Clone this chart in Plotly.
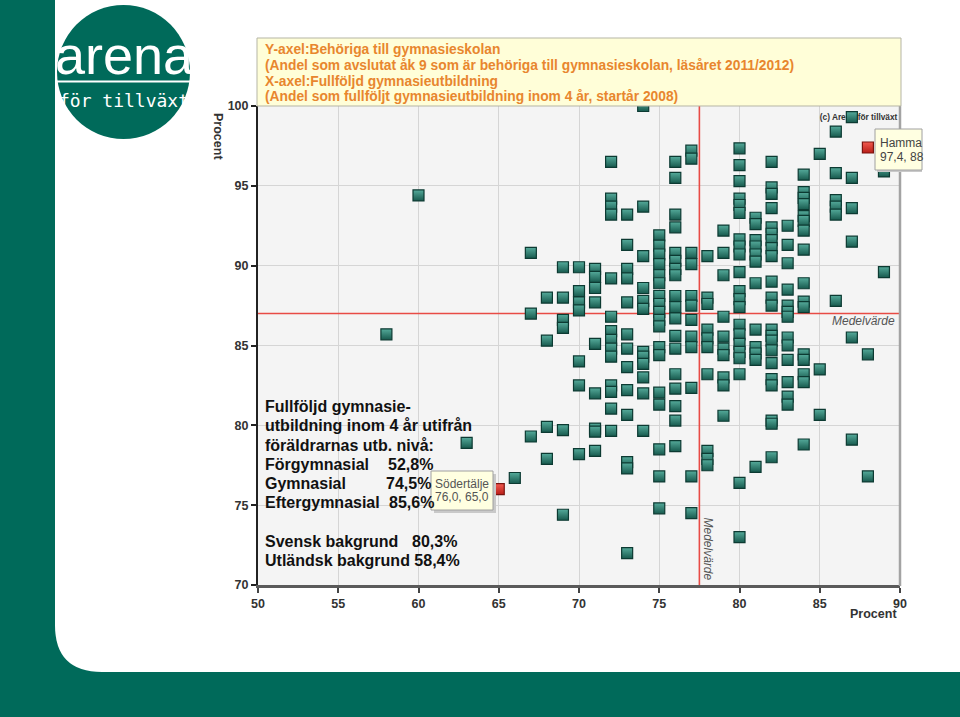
import plotly.graph_objects as go

W, H = 960, 717

# ---------------- data (x = Fullföljd gymnasieutbildning %, y = Behöriga %) ----------------
y_58 = [85.7]
y_60 = [94.4]
y_63 = [78.9]
y_66 = [76.7]
y_67 = [90.8, 87.0, 79.3]
y_68 = [88.0, 85.3, 79.9, 77.9]
y_69 = [89.9, 88.0, 86.6, 86.1, 79.7, 74.4]
y_70 = [89.9, 88.4, 87.7, 87.2, 84.0, 82.5, 78.2]
y_71 = [89.8, 89.3, 88.6, 87.7, 85.1, 82.0, 79.8, 79.6, 78.4]
y_72 = [96.5, 94.2, 93.7, 93.2, 89.2, 86.8, 85.9, 85.35, 84.8, 84.3, 82.5, 82.1, 81.05, 79.65]
y_73 = [93.2, 91.3, 89.8, 89.2, 87.7, 85.7, 84.8, 83.65, 82.2, 80.65, 77.7, 77.3, 72.0]
y_74 = [100.0, 93.7, 90.6, 88.6, 87.8, 87.3, 84.6, 84.3, 83.85, 83.0, 82.0, 79.65]
y_75 = [91.9, 91.25, 90.7, 90.1, 89.4, 88.9, 88.1, 87.6, 87.1, 86.6, 86.2, 84.9, 84.4,
        82.05, 81.3, 78.5, 76.8, 74.8]
y_76 = [96.5, 95.5, 93.2, 92.4, 90.8, 90.3, 89.8, 89.4, 88.1, 87.4, 86.7, 85.6, 84.8,
        83.2, 82.3, 81.2, 80.3, 78.7]
y_77 = [97.2, 96.7, 90.8, 90.1, 88.1, 87.5, 86.6, 85.55, 84.9, 82.35, 76.8, 74.5]
y_78 = [90.6, 88.0, 87.6, 86.0, 85.45, 84.9, 83.2, 78.4, 77.9, 77.5]
y_79 = [92.2, 90.8, 89.4, 86.8, 85.55, 84.8, 84.4, 83.0, 82.5, 80.6]
y_80 = [97.35, 96.3, 95.3, 94.2, 93.8, 93.3, 91.65, 91.2, 90.7, 89.6, 88.4, 87.9, 87.4,
        86.3, 85.7, 85.1, 84.6, 84.2, 83.2, 76.4, 73.0]
y_81 = [93.0, 92.6, 91.6, 91.2, 90.7, 90.25, 88.9, 86.0, 84.9, 84.5, 84.1, 77.4]
y_82 = [96.5, 94.9, 94.5, 93.6, 92.4, 92.0, 91.6, 91.1, 90.6, 89.0, 88.0, 87.5, 86.0,
        85.6, 85.3, 84.7, 83.9, 82.9, 82.5, 80.3, 80.1, 78.0]
y_83 = [92.5, 91.3, 90.15, 88.5, 87.5, 87.1, 86.8, 85.5, 85.0, 84.1, 82.7, 81.8, 81.3]
y_84 = [95.7, 94.6, 94.25, 93.85, 93.1, 92.8, 92.2, 91.0, 88.9, 87.75, 87.4, 84.45, 84.1,
        83.2, 82.7, 78.8]
y_85 = [97.0, 83.5, 80.65]
y_86 = [98.4, 95.8, 94.1, 93.7, 93.2, 87.8]
y_87 = [99.3, 95.5, 93.6, 91.5, 85.5, 79.1]
y_88 = [84.45, 76.8]
y_89 = [95.9, 89.6]

column_x = [58, 60, 63, 66, 67, 68, 69, 70, 71, 72, 73, 74, 75, 76, 77, 78, 79, 80, 81,
            82, 83, 84, 85, 86, 87, 88, 89]
column_y = [y_58, y_60, y_63, y_66, y_67, y_68, y_69, y_70, y_71, y_72, y_73, y_74, y_75,
            y_76, y_77, y_78, y_79, y_80, y_81, y_82, y_83, y_84, y_85, y_86, y_87, y_88, y_89]

highlight_names = ["Södertälje", "Hammarö"]
highlight_x = [65.0, 88.0]
highlight_y = [76.0, 97.4]

mean_x = 77.5
mean_y = 87.0

x_ticks = [50, 55, 60, 65, 70, 75, 80, 85, 90]
y_ticks = [70, 75, 80, 85, 90, 95, 100]

title_lines = [
    "Y-axel:Behöriga till gymnasieskolan",
    "(Andel som avslutat åk 9 som är behöriga till gymnasieskolan, läsåret 2011/2012)",
    "X-axel:Fullföljd gymnasieutbildning",
    "(Andel som fullföljt gymnasieutbildning inom 4 år, startår 2008)",
]
info_labels = ["Fullföljd gymnasie-", "utbildning inom 4 år utifrån", "föräldrarnas utb. nivå:",
               "Förgymnasial", "Gymnasial", "Eftergymnasial", "Svensk bakgrund",
               "Utländsk bakgrund 58,4%"]
info_values = ["", "", "", "52,8%", "74,5%", "85,6%", "80,3%", ""]

# ---------------- helpers (pixel -> paper) ----------------
def px(x):
    return x / W

def py(y):
    return 1 - y / H

TEAL = "#006a5a"
FONT = "Liberation Sans, Arial, sans-serif"

xs, ys = [], []
for xv, col in zip(column_x, column_y):
    xs += [xv] * len(col)
    ys += col

fig = go.Figure()

# mean lines
fig.add_trace(go.Scatter(x=[x_ticks[0], x_ticks[-1]], y=[mean_y, mean_y], mode="lines",
                         line=dict(color="#e84b45", width=1.6), hoverinfo="skip"))
fig.add_trace(go.Scatter(x=[mean_x, mean_x], y=[y_ticks[0], y_ticks[-1]], mode="lines",
                         line=dict(color="#e84b45", width=1.6), hoverinfo="skip"))

# copyright text (beneath markers)
fig.add_trace(go.Scatter(x=[85.0], y=[99.25], mode="text", text=["<b>(c) Arena för tillväxt</b>"],
                         textposition="middle right",
                         textfont=dict(family=FONT, size=8.3, color="#333333"), hoverinfo="skip"))

# municipalities
fig.add_trace(go.Scatter(
    x=xs, y=ys, mode="markers",
    marker=dict(symbol="square", size=11, color="#55ab9b",
                gradient=dict(type="vertical", color="#17594d"),
                line=dict(color="#0c3a32", width=1.2)),
    hoverinfo="x+y"))
fig.add_trace(go.Scatter(
    x=highlight_x, y=highlight_y, mode="markers", text=highlight_names,
    marker=dict(symbol="square", size=11, color="#f25a50",
                gradient=dict(type="vertical", color="#b81d17"),
                line=dict(color="#7a1410", width=1.2)),
    hoverinfo="text+x+y"))

shapes = []
# white rounded page
shapes.append(dict(type="path", xref="paper", yref="paper", layer="below",
                   path=(f"M {px(55)},{py(0)} L {px(960)},{py(0)} L {px(960)},{py(672)} "
                         f"L {px(102)},{py(672)} Q {px(55)},{py(672)} {px(55)},{py(625)} Z"),
                   fillcolor="white", line=dict(width=0)))
# plot background
shapes.append(dict(type="rect", xref="paper", yref="paper", layer="below",
                   x0=px(258), x1=px(900), y0=py(585), y1=py(106),
                   fillcolor="#f4f4f4", line=dict(width=0)))
# logo circle + line
shapes.append(dict(type="circle", xref="paper", yref="paper", layer="below",
                   x0=px(57), x1=px(190), y0=py(139), y1=py(5),
                   fillcolor=TEAL, line=dict(width=0)))
shapes.append(dict(type="line", xref="paper", yref="paper", layer="above",
                   x0=px(57), x1=px(190), y0=py(81.5), y1=py(81.5),
                   line=dict(color="white", width=2)))
# right border of plot
shapes.append(dict(type="line", xref="paper", yref="paper", layer="above",
                   x0=px(900), x1=px(900), y0=py(586), y1=py(106),
                   line=dict(color="#a3a3a3", width=2.5)))
# title box
shapes.append(dict(type="rect", xref="paper", yref="paper", layer="above",
                   x0=px(257), x1=px(901), y0=py(106), y1=py(38),
                   fillcolor="#fffed8", line=dict(color="#b5b5a5", width=1)))
# tooltips (shadow + box)
shapes.append(dict(type="rect", xref="paper", yref="paper", layer="above",
                   x0=px(434), x1=px(496), y0=py(513), y1=py(474),
                   fillcolor="#c9c9c9", line=dict(width=0)))
shapes.append(dict(type="rect", xref="paper", yref="paper", layer="above",
                   x0=px(431), x1=px(493), y0=py(510), y1=py(471),
                   fillcolor="#ffffe1", line=dict(color="#a0a0a0", width=1)))
shapes.append(dict(type="rect", xref="paper", yref="paper", layer="above",
                   x0=px(877), x1=px(922), y0=py(172), y1=py(132),
                   fillcolor="#c9c9c9", line=dict(width=0)))
shapes.append(dict(type="rect", xref="paper", yref="paper", layer="above",
                   x0=px(875), x1=px(922), y0=py(170), y1=py(129),
                   fillcolor="#ffffe1", line=dict(color="#a0a0a0", width=1)))

ann = []
# logo text
ann.append(dict(x=px(124), y=py(86), xref="paper", yref="paper", xanchor="center", yanchor="bottom",
                text="arena", showarrow=False, borderpad=0,
                font=dict(family="Liberation Sans Narrow, Arial Narrow, Liberation Sans", size=54,
                          color="white")))
ann.append(dict(x=px(124), y=py(88.5), xref="paper", yref="paper", xanchor="center", yanchor="top",
                text="för tillväxt", showarrow=False, borderpad=0,
                font=dict(family="DejaVu Sans Mono, monospace", size=18, color="white")))
# title lines
for t, yc in zip(title_lines, [50, 65.5, 81, 96]):
    ann.append(dict(x=px(263), y=py(yc), xref="paper", yref="paper", xanchor="left",
                    yanchor="middle", text=t, showarrow=False,
                    font=dict(family=FONT, size=13.8, color="#e8862e", weight="bold")))
# info block
info_y = [406.5, 425.8, 445, 464.3, 483.5, 502.7, 541, 560.3]
value_x = [0, 0, 0, 386, 384, 387, 410, 0]
for lab, val, yc, vx in zip(info_labels, info_values, info_y, value_x):
    ann.append(dict(x=px(263), y=py(yc), xref="paper", yref="paper", xanchor="left",
                    yanchor="middle", text=lab, showarrow=False,
                    font=dict(family=FONT, size=16, color="#111111", weight="bold")))
    if val:
        ann.append(dict(x=px(vx), y=py(yc), xref="paper", yref="paper", xanchor="left",
                        yanchor="middle", text=val, showarrow=False,
                        font=dict(family=FONT, size=16, color="#111111", weight="bold")))
# tooltip texts
ann.append(dict(x=px(433), y=py(484), xref="paper", yref="paper", xanchor="left", yanchor="middle",
                text="Södertälje", showarrow=False, font=dict(family=FONT, size=12, color="#555555")))
ann.append(dict(x=px(433), y=py(497), xref="paper", yref="paper", xanchor="left", yanchor="middle",
                text="76,0, 65,0", showarrow=False, font=dict(family=FONT, size=12, color="#555555")))
ann.append(dict(x=px(878), y=py(143), xref="paper", yref="paper", xanchor="left", yanchor="middle",
                text="Hamma", showarrow=False, font=dict(family=FONT, size=12, color="#444444")))
ann.append(dict(x=px(878), y=py(157), xref="paper", yref="paper", xanchor="left", yanchor="middle",
                text="97,4, 88", showarrow=False, font=dict(family=FONT, size=12, color="#444444")))
# Medelvärde labels
ann.append(dict(x=px(897), y=py(321), xref="paper", yref="paper", xanchor="right", yanchor="middle",
                text="<i>Medelvärde</i>", showarrow=False,
                font=dict(family=FONT, size=12, color="#555555")))
ann.append(dict(x=px(707.5), y=py(549), xref="paper", yref="paper", xanchor="center", yanchor="middle",
                text="<i>Medelvärde</i>", textangle=90, showarrow=False,
                font=dict(family=FONT, size=12, color="#555555")))
# axis titles
ann.append(dict(x=px(218), y=py(136), xref="paper", yref="paper", xanchor="center", yanchor="middle",
                text="Procent", textangle=90, showarrow=False,
                font=dict(family=FONT, size=12.5, color="#333333", weight="bold")))
ann.append(dict(x=px(873), y=py(614), xref="paper", yref="paper", xanchor="center", yanchor="middle",
                text="Procent", showarrow=False,
                font=dict(family=FONT, size=12.5, color="#333333", weight="bold")))

axis_common = dict(ticks="outside", ticklen=5, tickwidth=1.5, showgrid=True,
                   gridcolor="#d5d5d5", gridwidth=1, zeroline=False, showline=True,
                   automargin=False,
                   tickfont=dict(family=FONT, size=12.5, color="#333333", weight="bold"))

fig.update_layout(
    width=W, height=H, autosize=False,
    margin=dict(l=0, r=0, t=0, b=0, pad=0, autoexpand=False),
    paper_bgcolor=TEAL, plot_bgcolor="rgba(0,0,0,0)",
    showlegend=False, shapes=shapes, annotations=ann,
    xaxis=dict(domain=[px(258), px(900)], range=[50, 90], tickvals=x_ticks,
               tickcolor="#444444", linecolor="#5a5a5a", linewidth=2.5, **axis_common),
    yaxis=dict(domain=[py(585), py(106)], range=[70, 100], tickvals=y_ticks,
               tickcolor="#222222", linecolor="#222222", linewidth=2, **axis_common),
)

fig.write_html("out.html", config={"displayModeBar": False},
               post_script="document.body.style.margin='0px';document.body.style.overflow='hidden';")
